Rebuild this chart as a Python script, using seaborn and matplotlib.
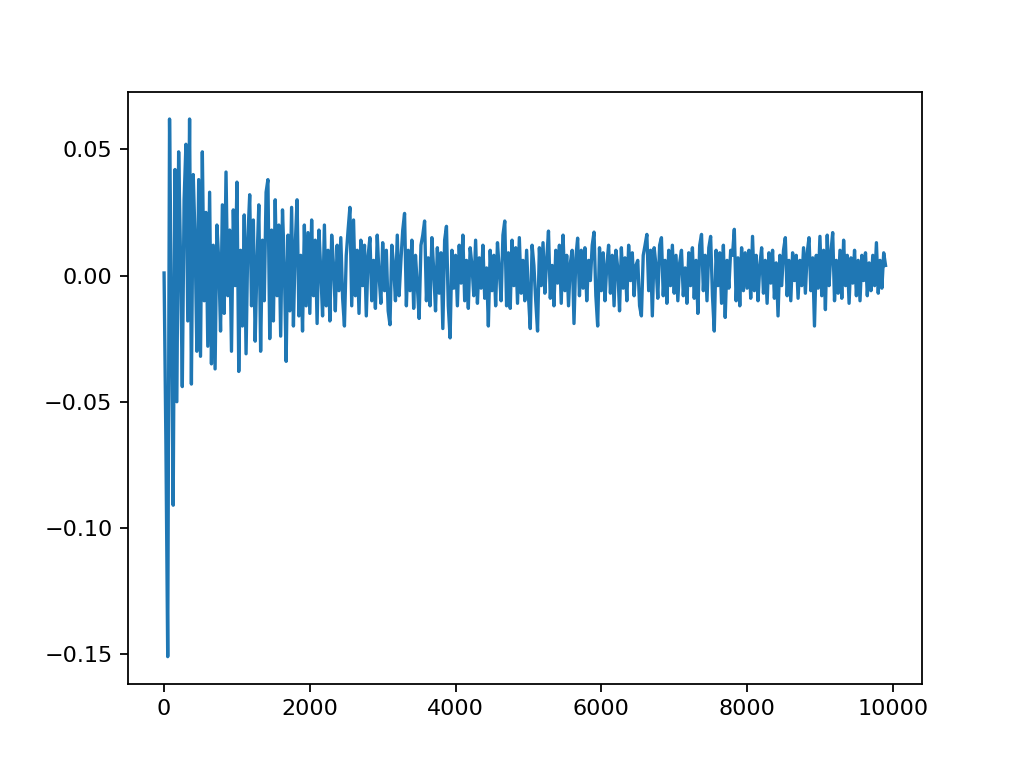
import matplotlib
matplotlib.use("Agg")
import matplotlib.pyplot as plt
import numpy as np
import seaborn as sns

# values, one list per 1000 steps (x step 25)
block_0 = [0.001, -0.066, -0.151, 0.062, -0.012, -0.091, 0.042, -0.050, 0.049, 0.008,
           -0.044, 0.030, 0.052, -0.018, 0.062, -0.043, 0.040, 0.015, -0.030, 0.038,
           -0.032, 0.049, -0.010, 0.025, -0.028, 0.033, -0.035, 0.012, -0.037, 0.020,
           0.006, -0.022, 0.028, -0.015, 0.041, -0.008, 0.018, -0.030, 0.026, -0.004]
block_1 = [0.037, -0.038, 0.010, -0.020, 0.024, -0.031, 0.015, 0.032, -0.012, 0.022,
           -0.026, 0.005, 0.028, -0.030, 0.014, -0.010, 0.033, 0.038, -0.025, 0.018,
           -0.018, 0.030, -0.008, 0.020, -0.024, 0.026, 0.004, -0.034, 0.016, -0.014,
           0.027, -0.020, 0.012, 0.030, -0.016, 0.008, -0.022, 0.020, -0.012, 0.017]
block_2 = [-0.015, 0.022, -0.008, 0.014, -0.019, 0.018, 0.002, -0.016, 0.020, -0.012,
           0.010, -0.018, 0.016, 0.004, -0.014, 0.012, -0.006, 0.015, -0.009, -0.020,
           0.008, 0.018, 0.027, -0.012, 0.022, -0.008, 0.010, -0.015, 0.014, -0.004,
           0.012, -0.016, 0.008, 0.015, -0.010, 0.006, -0.013, 0.016, 0.000, -0.011]
block_3 = [0.013, -0.006, 0.010, -0.014, -0.0195, 0.012, 0.004, -0.010, 0.016, -0.008,
           0.006, 0.018, 0.0246, -0.012, 0.010, -0.006, 0.014, -0.013, 0.008, -0.004,
           -0.017, 0.012, 0.016, 0.0216, -0.010, 0.007, -0.012, 0.015, 0.002, -0.014,
           0.011, -0.007, 0.009, -0.021, 0.014, 0.0195, -0.012, -0.0247, 0.010, -0.005]
block_4 = [0.008, -0.012, 0.012, -0.003, 0.016, -0.010, 0.006, -0.013, 0.011, 0.004,
           -0.008, 0.014, -0.011, 0.007, -0.005, 0.012, -0.009, 0.003, -0.020, 0.010,
           -0.006, 0.008, -0.012, 0.013, 0.002, -0.010, 0.016, 0.0216, -0.012, 0.009,
           -0.013, 0.014, -0.004, 0.011, -0.011, 0.015, -0.007, 0.006, -0.010, 0.010]
block_5 = [-0.008, -0.021, 0.012, 0.004, -0.010, -0.022, 0.011, -0.004, 0.013, -0.007,
           0.006, 0.0176, -0.009, 0.004, -0.012, 0.010, -0.003, 0.012, -0.011, 0.016,
           -0.006, 0.008, -0.012, 0.005, 0.010, -0.019, 0.007, 0.0148, -0.008, 0.010,
           -0.005, 0.011, -0.010, 0.006, -0.002, 0.012, 0.0172, -0.008, -0.020, 0.011]
block_6 = [-0.006, 0.009, -0.010, 0.004, 0.012, -0.007, 0.008, -0.012, 0.010, 0.003,
           -0.014, 0.011, -0.005, 0.007, -0.010, 0.012, -0.002, 0.009, -0.008, 0.004,
           0.006, -0.012, -0.016, 0.008, 0.012, 0.0163, -0.006, 0.010, -0.016, 0.011,
           0.004, -0.009, 0.012, 0.015, -0.008, 0.006, -0.011, 0.010, -0.004, 0.012]
block_7 = [-0.007, 0.008, -0.010, 0.005, 0.010, -0.008, 0.003, -0.011, 0.009, -0.004,
           0.011, -0.009, 0.006, -0.015, 0.012, 0.0163, -0.006, 0.008, -0.010, 0.011,
           0.0155, -0.008, -0.022, 0.010, -0.004, 0.009, -0.011, 0.012, -0.0166, 0.006,
           -0.005, 0.010, 0.008, 0.0183, -0.010, 0.007, -0.012, 0.011, -0.006, 0.009]
block_8 = [-0.005, 0.010, -0.009, 0.0155, -0.006, 0.008, -0.010, 0.004, 0.011, -0.007,
           0.006, -0.011, 0.009, -0.003, 0.010, -0.009, 0.005, -0.016, 0.008, -0.004,
           0.010, 0.015, -0.008, 0.006, -0.010, 0.009, -0.002, 0.008, -0.009, 0.006,
           -0.004, 0.011, -0.007, 0.009, 0.015, -0.006, 0.007, -0.020, 0.008, -0.005]
block_9 = [0.0155, -0.008, 0.010, -0.0135, 0.016, -0.004, 0.009, 0.017, -0.010, 0.006,
           -0.007, 0.010, -0.009, 0.014, -0.004, 0.008, -0.011, 0.007, -0.003, 0.010,
           -0.008, 0.006, -0.010, 0.008, -0.002, 0.009, -0.008, 0.005, -0.006, 0.008,
           -0.004, 0.013, -0.007, 0.006, -0.005, 0.009, 0.004]

values = (block_0 + block_1 + block_2 + block_3 + block_4 +
          block_5 + block_6 + block_7 + block_8 + block_9)
steps = np.arange(len(values)) * 25

fig, ax = plt.subplots(figsize=(6.4, 4.8), dpi=160)
sns.lineplot(x=steps, y=values, ax=ax, color="#1f77b4", linewidth=1.5)
ax.set_xticks([0, 2000, 4000, 6000, 8000, 10000])
fig.savefig("out.png", dpi=160)
